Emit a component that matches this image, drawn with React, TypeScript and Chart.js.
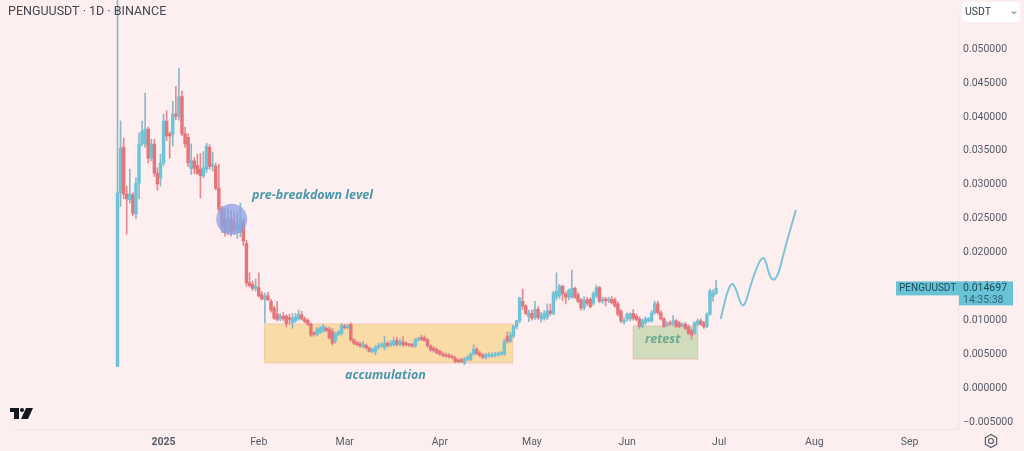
import React, { useEffect, useRef } from "react";
import { Chart, registerables } from "chart.js";

Chart.register(...registerables);

// Daily candles, PENGUUSDT, prices in USDT. First candle is 15 days before 2025-01-01.
const firstDay = -15;
const opens = [
  0.0032,0.0288,0.0355,0.0286,0.0278,0.0285,0.0257,0.0302,0.036,0.036,
  0.0382,0.0339,0.036,0.0317,0.031,0.0332,0.0394,0.0375,0.0374,0.0404,
  0.0401,0.043,0.0375,0.037,0.0324,0.0335,0.0328,0.0323,0.0313,0.0323,
  0.0355,0.0327,0.0327,0.0295,0.0265,0.025,0.0233,0.0248,0.0245,0.0232,
  0.0229,0.0246,0.0213,0.0155,0.0153,0.0147,0.0148,0.0138,0.0131,0.0136,
  0.0128,0.0118,0.0109,0.0102,0.0106,0.0106,0.0104,0.0096,0.0099,0.0102,
  0.0108,0.0102,0.01,0.0094,0.0081,0.0079,0.0082,0.0084,0.0088,0.0087,
  0.0084,0.007,0.0079,0.008,0.0091,0.0089,0.0094,0.0071,0.0067,0.0065,
  0.0061,0.0063,0.0059,0.0054,0.0053,0.006,0.0062,0.0059,0.0066,0.0063,
  0.0064,0.007,0.0064,0.0068,0.0065,0.0064,0.0063,0.0062,0.0071,0.0074,
  0.0074,0.0071,0.0062,0.0059,0.0057,0.0054,0.005,0.0049,0.0048,0.0047,
  0.0044,0.0041,0.0042,0.0037,0.0042,0.0042,0.005,0.0057,0.0052,0.0049,
  0.0045,0.0047,0.0047,0.0048,0.0049,0.005,0.005,0.0076,0.0069,0.0077,
  0.009,0.0099,0.0128,0.0121,0.0105,0.011,0.0104,0.0116,0.0102,0.0103,
  0.0104,0.0114,0.011,0.0134,0.0136,0.015,0.0139,0.0134,0.0134,0.0147,
  0.0138,0.013,0.0118,0.013,0.0131,0.0125,0.0136,0.0148,0.0128,0.0131,
  0.0129,0.0131,0.013,0.0124,0.0113,0.0097,0.0102,0.0102,0.011,0.0106,
  0.0102,0.0091,0.0096,0.0099,0.0099,0.0111,0.0124,0.0111,0.0102,0.0093,
  0.0096,0.0094,0.0099,0.0096,0.0092,0.0094,0.009,0.0085,0.0081,0.0094,
  0.0099,0.0096,0.0091,0.0109,0.0135,0.014,
];
const closes = [
  0.0288,0.0354,0.0286,0.0279,0.0286,0.0258,0.0302,0.036,0.0379,0.0382,
  0.0339,0.036,0.0317,0.0301,0.0332,0.0394,0.0372,0.0372,0.0404,0.0401,
  0.043,0.0375,0.036,0.0332,0.0335,0.0324,0.0317,0.0313,0.0325,0.0357,
  0.0327,0.033,0.0295,0.0264,0.0239,0.0229,0.0248,0.023,0.0232,0.024,
  0.0249,0.0217,0.0155,0.0151,0.0147,0.015,0.0136,0.0131,0.0136,0.013,
  0.0115,0.0103,0.0101,0.0106,0.0102,0.0095,0.0101,0.0103,0.0105,0.0109,
  0.0102,0.0098,0.0094,0.0078,0.0079,0.0087,0.0088,0.0091,0.0085,0.0074,
  0.0066,0.008,0.0083,0.0092,0.0089,0.0091,0.0071,0.0066,0.0064,0.0062,
  0.0064,0.0059,0.0054,0.0057,0.006,0.0063,0.0064,0.0066,0.0063,0.0066,
  0.007,0.0064,0.0068,0.0064,0.0064,0.0063,0.0062,0.0071,0.0073,0.0072,
  0.007,0.0062,0.0056,0.0055,0.0052,0.005,0.0048,0.0047,0.0046,0.0045,
  0.0039,0.0039,0.0039,0.0043,0.0045,0.005,0.0057,0.0051,0.0048,0.0045,
  0.0049,0.0049,0.0049,0.005,0.0051,0.0052,0.0069,0.0069,0.0078,0.0091,
  0.0099,0.0133,0.0121,0.011,0.011,0.0103,0.0116,0.0104,0.0107,0.011,
  0.0114,0.011,0.014,0.0143,0.015,0.0139,0.0134,0.0144,0.0147,0.0134,
  0.0128,0.0118,0.013,0.0125,0.012,0.0139,0.0148,0.0128,0.0131,0.0129,
  0.0131,0.0126,0.0121,0.0109,0.0099,0.01,0.0109,0.0109,0.0103,0.0101,
  0.0091,0.0099,0.0102,0.0102,0.0111,0.0124,0.0111,0.0102,0.0091,0.0095,
  0.0094,0.0099,0.0091,0.0091,0.0093,0.0088,0.0081,0.0078,0.0096,0.0099,
  0.0094,0.009,0.0109,0.0143,0.014,0.014697,
];
const highs = [
  0.062,0.0394,0.0369,0.0298,0.0323,0.0288,0.031,0.0376,0.0394,0.0435,
  0.0385,0.0367,0.0367,0.0325,0.0345,0.0404,0.0409,0.0378,0.0423,0.0445,
  0.0472,0.0438,0.0385,0.0375,0.036,0.034,0.0345,0.0346,0.0349,0.0361,
  0.0359,0.0348,0.0332,0.033,0.0268,0.0266,0.0266,0.0262,0.026,0.026,
  0.0273,0.025,0.0218,0.017,0.0158,0.0161,0.017,0.0142,0.014,0.0141,
  0.0131,0.0121,0.0128,0.011,0.0112,0.0108,0.0109,0.011,0.011,0.0115,
  0.0113,0.0105,0.0102,0.0096,0.0083,0.0089,0.0091,0.0094,0.009,0.009,
  0.0088,0.0082,0.0085,0.0095,0.0094,0.0094,0.0096,0.0073,0.0069,0.0068,
  0.0069,0.0065,0.0061,0.0059,0.0063,0.0066,0.0067,0.0076,0.0069,0.007,
  0.0074,0.0075,0.0072,0.0076,0.0068,0.0066,0.0066,0.0073,0.0075,0.0078,
  0.0077,0.0073,0.0064,0.0061,0.0059,0.0056,0.0053,0.0052,0.0051,0.0049,
  0.0047,0.0043,0.0044,0.0045,0.0048,0.0052,0.0064,0.006,0.0054,0.0051,
  0.0051,0.0052,0.0052,0.0053,0.0053,0.0054,0.0072,0.0083,0.0082,0.0093,
  0.01,0.0134,0.0146,0.0123,0.0115,0.0115,0.0128,0.012,0.0112,0.0114,
  0.0124,0.0124,0.0143,0.017,0.0153,0.0152,0.0142,0.0146,0.0174,0.0149,
  0.0141,0.0132,0.0135,0.0134,0.0133,0.0142,0.0152,0.015,0.0134,0.0134,
  0.0134,0.0135,0.0133,0.0127,0.0116,0.0104,0.0111,0.0111,0.0116,0.0109,
  0.0105,0.0102,0.0105,0.0104,0.0114,0.0128,0.0128,0.0114,0.0104,0.0098,
  0.0099,0.0107,0.0101,0.0098,0.0096,0.0097,0.0093,0.0087,0.0098,0.0102,
  0.0102,0.0098,0.0111,0.0146,0.0145,0.0159,
];
const lows = [
  0.0032,0.0268,0.0279,0.0227,0.0273,0.0254,0.025,0.0279,0.0357,0.0355,
  0.0332,0.0335,0.0312,0.0292,0.0298,0.0328,0.0365,0.0339,0.0357,0.0396,
  0.0395,0.0372,0.0355,0.0327,0.0315,0.0316,0.0315,0.028,0.031,0.0318,
  0.0323,0.032,0.0292,0.026,0.0229,0.0224,0.0226,0.0224,0.0227,0.0221,
  0.0223,0.021,0.015,0.0149,0.0144,0.0143,0.0134,0.013,0.0096,0.0129,
  0.0112,0.0101,0.0099,0.0099,0.0099,0.009,0.0094,0.0088,0.0097,0.01,
  0.01,0.0096,0.0092,0.0076,0.0076,0.0077,0.008,0.0082,0.0083,0.0072,
  0.0063,0.0066,0.0077,0.0078,0.0087,0.0087,0.0069,0.0064,0.0062,0.006,
  0.0059,0.0057,0.0053,0.0052,0.0049,0.0057,0.006,0.0056,0.006,0.0061,
  0.0062,0.0062,0.0062,0.0061,0.0062,0.0061,0.006,0.006,0.0069,0.007,
  0.0069,0.006,0.0054,0.0053,0.005,0.0048,0.0046,0.0045,0.0044,0.0043,
  0.0037,0.0037,0.0037,0.0034,0.004,0.004,0.0048,0.0049,0.0046,0.0043,
  0.0042,0.0045,0.0045,0.0046,0.0047,0.0048,0.0048,0.0066,0.0067,0.0074,
  0.0087,0.0096,0.0116,0.0108,0.0098,0.01,0.0101,0.0101,0.0097,0.01,
  0.0101,0.0107,0.0108,0.013,0.0132,0.0129,0.0124,0.013,0.0132,0.0132,
  0.0126,0.0115,0.0115,0.0122,0.0118,0.0122,0.0133,0.0126,0.0125,0.0121,
  0.0126,0.0124,0.0119,0.0106,0.0096,0.0094,0.0099,0.0099,0.01,0.0099,
  0.0088,0.0089,0.0094,0.0097,0.0097,0.0109,0.0108,0.01,0.0089,0.009,
  0.0092,0.0092,0.0089,0.0089,0.009,0.0086,0.0079,0.0072,0.0079,0.0092,
  0.0092,0.0088,0.0089,0.0107,0.0128,0.0138,
];

// Hand-drawn projection after the last candle: day since 2025-01-01 and price.
const projectionDays = [181.5, 182.9, 184.2, 185.3, 186.4, 187.4, 188.6, 189.6, 190.7, 192.6, 194.3, 195.4, 196.2, 197.2, 198.2, 199.2, 200.5, 201.8, 203.1, 206];
const projectionPrices = [0.01018, 0.01283, 0.01475, 0.01534, 0.0146, 0.01327, 0.01217, 0.01268, 0.01431, 0.01696, 0.01873, 0.01917, 0.01858, 0.01696, 0.01608, 0.01608, 0.01726, 0.01947, 0.02168, 0.02625];

const monthDays = [0, 31, 59, 90, 120, 151, 181, 212, 243];
const monthLabels = ["2025", "Feb", "Mar", "Apr", "May", "Jun", "Jul", "Aug", "Sep"];
const priceTicks = [-0.005, 0, 0.005, 0.01, 0.015, 0.02, 0.025, 0.03, 0.035, 0.04, 0.045, 0.05];

const accumulationBox = { dayFrom: 32.9, dayTo: 113.7, priceLow: 0.0037, priceHigh: 0.00944 };
const retestBox = { dayFrom: 153, dayTo: 174, priceLow: 0.00428, priceHigh: 0.00914 };
const breakdownDay = 22.2;
const breakdownPrice = 0.0249;
const lastPrice = 0.014697;

const BG = "#fdefef";
const UP = "#6cc4d6";
const DOWN = "#e3757b";
const UP_WICK = "#8db7c7";
const DOWN_WICK = "#e58a90";
const TAG = "#68c3d6";
const AXIS_TEXT = "#555b66";

const days = opens.map((_, i) => firstDay + i);
const isUp = (i: number) => closes[i] >= opens[i];

const decorate = {
  id: "decorate",
  beforeDraw(chart: any) {
    const { ctx, width, height } = chart;
    ctx.save();
    ctx.fillStyle = BG;
    ctx.fillRect(0, 0, width, height);
    ctx.restore();
  },
  beforeDatasetsDraw(chart: any) {
    const { ctx, scales } = chart;
    const box = (b: typeof retestBox, fill: string, line: string) => {
      const x = scales.x.getPixelForValue(b.dayFrom);
      const x2 = scales.x.getPixelForValue(b.dayTo);
      const y = scales.y.getPixelForValue(b.priceHigh);
      const y2 = scales.y.getPixelForValue(b.priceLow);
      ctx.fillStyle = fill;
      ctx.fillRect(x, y, x2 - x, y2 - y);
      ctx.strokeStyle = line;
      ctx.lineWidth = 1;
      ctx.strokeRect(x, y, x2 - x, y2 - y);
    };
    ctx.save();
    box(accumulationBox, "#f9dba6", "#f3c8a8");
    box(retestBox, "#d0dcbb", "#dcc4ae");
    ctx.restore();
  },
  afterDraw(chart: any) {
    const { ctx, scales } = chart;
    ctx.save();
    ctx.textBaseline = "middle";

    // title
    ctx.textAlign = "left";
    ctx.fillStyle = "#434651";
    ctx.font = "12.5px Roboto";
    ctx.fillText("PENGUUSDT · 1D · BINANCE", 8, 12);

    // annotations
    ctx.font = "italic 700 12.5px 'Open Sans'";
    ctx.fillStyle = "#4a98aa";
    ctx.fillText("pre-breakdown level", 252, 195);
    ctx.fillText("accumulation", 345, 375);
    ctx.fillStyle = "#6cab8e";
    ctx.fillText("retest", 645, 339);

    // last price tags
    const yTag = scales.y.getPixelForValue(lastPrice);
    ctx.fillStyle = TAG;
    ctx.fillRect(896, yTag - 7, 63, 14);
    ctx.fillRect(959, yTag - 7, 54, 24);
    ctx.fillStyle = "#1f4a57";
    ctx.font = "10px Roboto";
    ctx.fillText("PENGUUSDT", 899, yTag);
    ctx.font = "10.5px Roboto";
    ctx.fillText(lastPrice.toFixed(6), 963, yTag);
    ctx.fillStyle = "#2d6575";
    ctx.fillText("14:35:38", 963, yTag + 12);

    // currency button
    ctx.fillStyle = "#ffffff";
    ctx.beginPath();
    ctx.roundRect(962, 2, 58, 20, 4);
    ctx.fill();
    ctx.fillStyle = "#3a3d48";
    ctx.font = "10.5px Roboto";
    ctx.fillText("USDT", 965, 12.5);
    ctx.strokeStyle = "#3a3d48";
    ctx.lineWidth = 1;
    ctx.beginPath();
    ctx.moveTo(1012, 11.5);
    ctx.lineTo(1014, 13.5);
    ctx.lineTo(1016, 11.5);
    ctx.stroke();

    // logo
    ctx.fillStyle = "#131722";
    ctx.fillRect(10, 408, 9, 4);
    ctx.fillRect(14, 408, 5, 11);
    ctx.beginPath();
    ctx.arc(22, 410, 2, 0, Math.PI * 2);
    ctx.fill();
    ctx.beginPath();
    ctx.moveTo(26, 408);
    ctx.lineTo(33, 408);
    ctx.lineTo(28, 419);
    ctx.lineTo(21, 419);
    ctx.closePath();
    ctx.fill();

    // settings icon
    ctx.strokeStyle = "#555b66";
    ctx.lineWidth = 1.2;
    ctx.beginPath();
    for (let k = 0; k < 6; k++) {
      const a = Math.PI / 6 + (k * Math.PI) / 3;
      const px = 991 + 6.5 * Math.cos(a);
      const py = 441 + 6.5 * Math.sin(a);
      if (k === 0) ctx.moveTo(px, py);
      else ctx.lineTo(px, py);
    }
    ctx.closePath();
    ctx.stroke();
    ctx.beginPath();
    ctx.arc(991, 441, 2.5, 0, Math.PI * 2);
    ctx.stroke();
    ctx.restore();
  },
};

export default function App() {
  const ref = useRef<HTMLCanvasElement | null>(null);
  useEffect(() => {
    if (!ref.current) return;
    const chart = new Chart(ref.current, {
      type: "bar",
      data: {
        datasets: [
          {
            type: "scatter",
            label: "pre-breakdown level",
            data: [{ x: breakdownDay, y: breakdownPrice }],
            pointRadius: 15.5,
            pointHoverRadius: 15.5,
            pointBorderWidth: 0,
            pointBackgroundColor: "rgba(138,162,228,0.75)",
            order: 0,
          },
          {
            type: "line",
            label: "projection",
            data: projectionDays.map((d, i) => ({ x: d, y: projectionPrices[i] })),
            borderColor: "#7cc5d6",
            borderWidth: 2,
            pointRadius: 0,
            tension: 0.4,
            order: 1,
          },
          {
            label: "body",
            data: days.map((d, i) => ({ x: d, y: [Math.min(opens[i], closes[i]), Math.max(opens[i], closes[i])] })),
            backgroundColor: days.map((_, i) => (isUp(i) ? UP : DOWN)),
            borderWidth: 0,
            borderSkipped: false,
            barThickness: 2.8,
            minBarLength: 1.5,
            grouped: false,
            order: 2,
          },
          {
            label: "wick",
            data: days.map((d, i) => ({ x: d, y: [lows[i], highs[i]] })),
            backgroundColor: days.map((_, i) => (isUp(i) ? UP_WICK : DOWN_WICK)),
            borderWidth: 0,
            borderSkipped: false,
            barThickness: 1,
            grouped: false,
            clip: false,
            order: 3,
          },
        ],
      } as any,
      options: {
        responsive: false,
        animation: false,
        layout: { padding: 0 },
        plugins: { legend: { display: false }, tooltip: { enabled: false }, title: { display: false } },
        scales: {
          x: {
            type: "linear",
            offset: false,
            min: -48.24,
            max: 258.8,
            grid: { display: false, drawTicks: false },
            border: { display: true, color: "#f3e3e3" },
            afterFit(scale: any) {
              scale.height = 22;
            },
            afterBuildTicks(scale: any) {
              scale.ticks = monthDays.map((value) => ({ value }));
            },
            ticks: {
              maxRotation: 0,
              autoSkip: false,
              padding: 7,
              color: AXIS_TEXT,
              font: (c: any) => ({ family: "Roboto", size: 10.5, weight: c.index === 0 ? "bold" : "normal" }),
              callback: (_v: any, i: number) => monthLabels[i],
            },
          },
          y: {
            type: "linear",
            position: "right",
            min: -0.00605,
            max: 0.05496,
            grid: { display: false, drawTicks: false },
            border: { display: true, color: "#f3e3e3" },
            afterFit(scale: any) {
              scale.width = 66;
            },
            afterBuildTicks(scale: any) {
              scale.ticks = priceTicks.map((value) => ({ value }));
            },
            ticks: {
              autoSkip: false,
              padding: 5,
              color: AXIS_TEXT,
              font: { family: "Roboto", size: 10.5 },
              callback: (v: any) => (Math.abs(v) < 1e-9 ? "0.000000" : Number(v).toFixed(6).replace("-", "−")),
            },
          },
        },
      },
      plugins: [decorate],
    } as any);
    return () => chart.destroy();
  }, []);
  return (
    <div style={{ position: "absolute", left: 0, top: 0, width: 1024, height: 451, overflow: "hidden" }}>
      <canvas ref={ref} width={1024} height={451} style={{ display: "block" }} />
    </div>
  );
}
